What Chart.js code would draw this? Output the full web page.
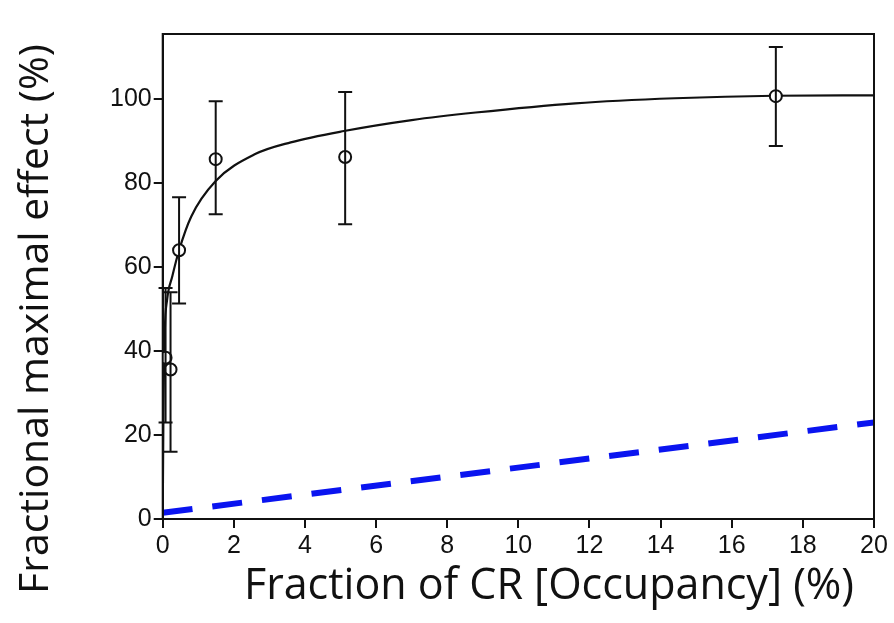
<!DOCTYPE html>
<html>
<head>
<meta charset="utf-8">
<script src="https://cdn.jsdelivr.net/npm/chart.js@4"></script>
<style>
  html, body { margin: 0; padding: 0; background: #fff; }
  #wrap { width: 894px; height: 623px; }
</style>
</head>
<body>
<div id="wrap"><canvas id="chart"></canvas></div>
<script>
// measured points with error bars
const pointX = [0.08, 0.22, 0.46, 1.49, 5.13, 17.24];
const pointY = [38.4, 35.6, 64.0, 85.7, 86.2, 100.7];
const errLow = [23.0, 16.0, 51.3, 72.6, 70.2, 88.8];
const errHigh = [55.0, 54.0, 76.6, 99.5, 101.7, 112.4];

// fitted curve
const curveX = [0, 0.02, 0.06, 0.12, 0.27, 0.46, 0.8, 1.49, 2.6, 3.6, 5.1, 7, 8.8, 11.6, 14.4, 17.2, 20];
const curveY = [0, 25, 45, 52, 57.8, 64, 72, 80.5, 86.9, 89.7, 92.4, 95, 96.8, 99, 100.2, 100.8, 100.9];

// blue dashed line
const lineX = [0, 20];
const lineY = [1.5, 23];

const xTicks = [0, 2, 4, 6, 8, 10, 12, 14, 16, 18, 20];
const yTicks = [0, 20, 40, 60, 80, 100];

const xTitle = 'Fraction of CR [Occupancy] (%)';
const yTitle = 'Fractional maximal effect (%)';

const toXY = (xs, ys) => xs.map((x, i) => ({ x: x, y: ys[i] }));

// error bars drawn through the chart scales
const errorBars = {
    id: 'errorBars',
    afterDatasetsDraw(chart) {
        const ctx = chart.ctx;
        const xs = chart.scales.x, ys = chart.scales.y;
        ctx.save();
        ctx.strokeStyle = '#111';
        ctx.lineWidth = 2;
        pointX.forEach((x, i) => {
            const px = xs.getPixelForValue(x);
            const lo = ys.getPixelForValue(errLow[i]);
            const hi = ys.getPixelForValue(errHigh[i]);
            ctx.beginPath();
            ctx.moveTo(px, lo); ctx.lineTo(px, hi);
            ctx.moveTo(px - 7, lo); ctx.lineTo(px + 7, lo);
            ctx.moveTo(px - 7, hi); ctx.lineTo(px + 7, hi);
            ctx.stroke();
        });
        ctx.restore();
    }
};

// box around the plot area + the axis titles (both sit off the axis centre)
const frame = {
    id: 'frame',
    afterDraw(chart) {
        const a = chart.chartArea, ctx = chart.ctx;
        ctx.save();
        ctx.strokeStyle = '#111';
        ctx.lineWidth = 2;
        ctx.strokeRect(a.left, a.top, a.right - a.left, a.bottom - a.top);

        ctx.fillStyle = '#111';
        ctx.textAlign = 'center';
        ctx.textBaseline = 'middle';
        ctx.font = '43px "Open Sans"';
        ctx.fillText(xTitle, 549, 587);

        ctx.translate(36, 319);
        ctx.rotate(-Math.PI / 2);
        ctx.font = '41px "Open Sans"';
        ctx.fillText(yTitle, 0, 0);
        ctx.restore();
    }
};

new Chart(document.getElementById('chart').getContext('2d'), {
    type: 'scatter',
    data: {
        datasets: [
            {
                type: 'line',
                data: toXY(curveX, curveY),
                borderColor: '#111',
                borderWidth: 2.2,
                pointRadius: 0,
                cubicInterpolationMode: 'monotone',
                order: 2
            },
            {
                type: 'line',
                data: toXY(lineX, lineY),
                borderColor: '#0a14f0',
                borderWidth: 6,
                borderDash: [30, 20],
                pointRadius: 0,
                order: 3
            },
            {
                type: 'scatter',
                data: toXY(pointX, pointY),
                pointRadius: 6,
                pointBorderWidth: 2,
                pointBackgroundColor: '#fff',
                pointBorderColor: '#111',
                order: 0
            }
        ]
    },
    options: {
        responsive: true,
        maintainAspectRatio: false,
        animation: false,
        layout: { padding: { top: 34, right: 20, left: 108, bottom: 59 } },
        plugins: {
            legend: { display: false },
            tooltip: { enabled: false }
        },
        scales: {
            x: {
                type: 'linear',
                min: 0,
                max: 20,
                afterBuildTicks: axis => { axis.ticks = xTicks.map(v => ({ value: v })); },
                grid: { drawOnChartArea: false, drawTicks: true, tickLength: 9, color: '#111', lineWidth: 2 },
                border: { color: '#111', width: 2 },
                ticks: { color: '#111', font: { family: 'Liberation Sans', size: 25 }, padding: 3, maxRotation: 0 }
            },
            y: {
                type: 'linear',
                min: 0,
                max: 115.5,
                afterBuildTicks: axis => { axis.ticks = yTicks.map(v => ({ value: v })); },
                grid: { drawOnChartArea: false, drawTicks: true, tickLength: 9, color: '#111', lineWidth: 2 },
                border: { color: '#111', width: 2 },
                ticks: { color: '#111', font: { family: 'Liberation Sans', size: 25 }, padding: 2 }
            }
        }
    },
    plugins: [errorBars, frame]
});
</script>
</body>
</html>
